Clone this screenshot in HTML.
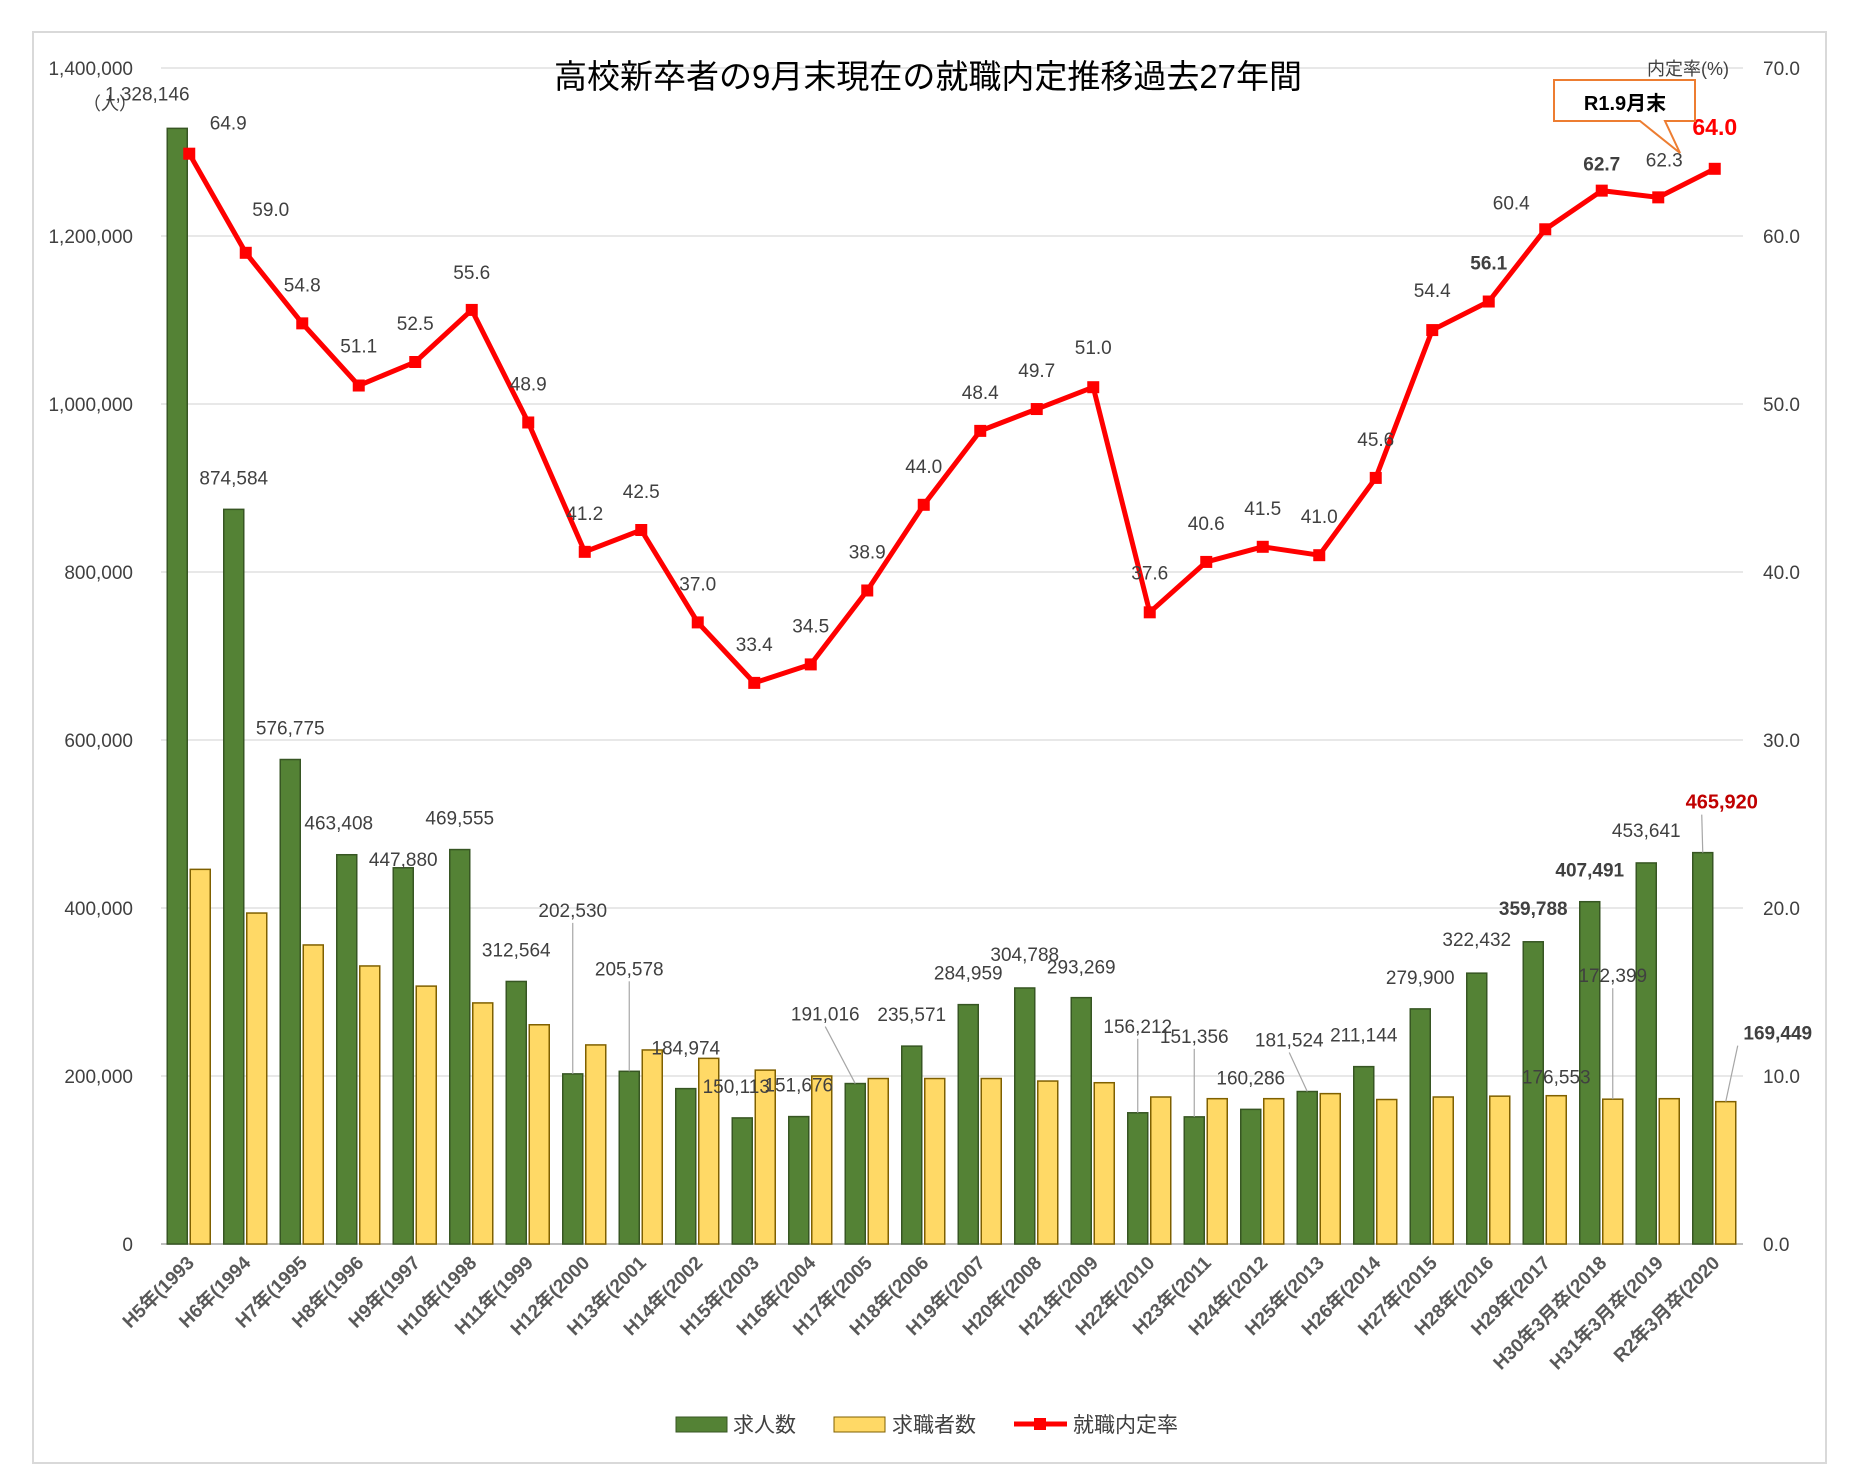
<!DOCTYPE html>
<html><head><meta charset="utf-8">
<style>
html,body{margin:0;padding:0;background:#fff;}
svg{display:block;font-family:"Liberation Sans","Noto Sans CJK JP",sans-serif;}
</style></head>
<body>
<svg id="chart" width="1849" height="1469" viewBox="0 0 1849 1469" xmlns="http://www.w3.org/2000/svg">
<rect x="33" y="32" width="1793" height="1431" fill="#fff" stroke="#d9d9d9" stroke-width="2"/>
<g id="grid"></g>
<g id="bars"></g>
<g id="line"></g>
<g id="labels"></g>
<g id="axes"></g>
<text x="928" y="88" font-size="33" text-anchor="middle" fill="#000">高校新卒者の9月末現在の就職内定推移過去27年間</text>
<text x="83" y="110" font-size="18" fill="#404040">（人）</text>
<text x="1647" y="75" font-size="18" fill="#404040">内定率(%)</text>
<g>
<path d="M1554,80 H1695 V121 H1665 L1680,153 L1640,121 H1554 Z" fill="#fff" stroke="#ed7d31" stroke-width="2"/>
<text x="1625" y="110" font-size="20" font-weight="bold" text-anchor="middle" fill="#000">R1.9月末</text>
</g>
<g>
<rect x="676" y="1417" width="51" height="15" fill="#548235" stroke="#375623"/>
<text x="733" y="1432" font-size="21" fill="#404040">求人数</text>
<rect x="834" y="1417" width="51" height="15" fill="#ffd966" stroke="#7f6000"/>
<text x="892" y="1432" font-size="21" fill="#404040">求職者数</text>
<line x1="1014" y1="1424" x2="1067" y2="1424" stroke="#ff0000" stroke-width="5"/>
<rect x="1034" y="1418" width="12" height="12" fill="#ff0000"/>
<text x="1073" y="1432" font-size="21" fill="#404040">就職内定率</text>
</g>
</svg>
<script>
const categories=["H5年(1993","H6年(1994","H7年(1995","H8年(1996","H9年(1997","H10年(1998","H11年(1999","H12年(2000","H13年(2001","H14年(2002","H15年(2003","H16年(2004","H17年(2005","H18年(2006","H19年(2007","H20年(2008","H21年(2009","H22年(2010","H23年(2011","H24年(2012","H25年(2013","H26年(2014","H27年(2015","H28年(2016","H29年(2017","H30年3月卒(2018","H31年3月卒(2019","R2年3月卒(2020"];
const jobOffers=[1328146,874584,576775,463408,447880,469555,312564,202530,205578,184974,150113,151676,191016,235571,284959,304788,293269,156212,151356,160286,181524,211144,279900,322432,359788,407491,453641,465920];
const jobSeekers=[446000,394000,356000,331000,307000,287000,261000,237000,231000,221000,207000,200000,197000,197000,197000,194000,192000,175000,173000,173000,179000,172000,175000,176000,176553,172399,173000,169449];
const offerRate=[64.9,59.0,54.8,51.1,52.5,55.6,48.9,41.2,42.5,37.0,33.4,34.5,38.9,44.0,48.4,49.7,51.0,37.6,40.6,41.5,41.0,45.6,54.4,56.1,60.4,62.7,62.3,64.0];
const leftTicks=[0,200000,400000,600000,800000,1000000,1200000,1400000];
const rightTicks=[0,10,20,30,40,50,60,70];
// label layout offsets (pixels, not data)
const gOff=[[-30,-28],[0,-25],[0,-25],[-8,-25],[0,-2],[0,-25],[0,-25],[0,-157],[0,-96],[0,-34],[-6,-25],[0,-25],[-30,-63],[0,-25],[0,-25],[0,-27],[0,-24],[0,-80],[0,-74],[0,-25],[-18,-45],[0,-25],[0,-25],[0,-27],[0,-27],[0,-25],[0,-26],[19,-44]];
const rOff=[[39,-24],[25,-37],[0,-32],[0,-33],[0,-32],[0,-31],[0,-32],[0,-32],[0,-32],[0,-32],[0,-32],[0,-32],[0,-32],[0,-32],[0,-32],[0,-32],[0,-33],[0,-33],[0,-32],[0,-32],[0,-32],[0,-32],[0,-33],[0,-32],[-34,-20],[0,-20],[6,-31],[0,-34]];
const NS="http://www.w3.org/2000/svg";
const X0=161,X1=1743,Y0=1244,Y1=68;
const n=categories.length,gw=(X1-X0)/n;
function xc(i){return X0+gw*(i+0.5);}
function yL(v){return Y0-v/1400000*(Y0-Y1);}
function yR(v){return Y0-v/70*(Y0-Y1);}
function mk(tag,attrs,parent,txt){const e=document.createElementNS(NS,tag);for(const k in attrs)e.setAttribute(k,attrs[k]);if(txt!==undefined)e.textContent=txt;parent.appendChild(e);return e;}
const grid=document.getElementById('grid'),bars=document.getElementById('bars'),line=document.getElementById('line'),labels=document.getElementById('labels'),axes=document.getElementById('axes');
leftTicks.forEach(t=>{
  const g=mk('line',{x1:X0,x2:X1,y1:yL(t),y2:yL(t),stroke:t===0?'#bfbfbf':'#d9d9d9','stroke-width':t===0?2:1.2},grid);
  
  
  const tl=mk('text',{x:133,y:yL(t)+7,'font-size':19,'text-anchor':'end',fill:'#404040'},axes,t.toLocaleString('en-US'));
  
  
});
rightTicks.forEach(t=>{
  const tl=mk('text',{x:1763,y:yR(t)+7,'font-size':19,fill:'#404040'},axes,t.toFixed(1));
  
  
});
categories.forEach((c,i)=>{
  const cx=xc(i);
  const gb=mk('rect',{x:cx-22,y:yL(jobOffers[i]),width:20,height:Y0-yL(jobOffers[i]),fill:'#548235',stroke:'#375623','stroke-width':1.5},bars);
  
  
  const yb=mk('rect',{x:cx+1,y:yL(jobSeekers[i]),width:20,height:Y0-yL(jobSeekers[i]),fill:'#ffd966',stroke:'#7f6000','stroke-width':1.5},bars);
  
  
  const xl=mk('text',{transform:`translate(${cx+6},1264) rotate(-45)`,'font-size':19,'font-weight':'bold','text-anchor':'end',fill:'#595959'},axes,c);
  
  
});
const pts=offerRate.map((v,i)=>xc(i)+','+yR(v)).join(' ');
const pl=mk('polyline',{points:pts,fill:'none',stroke:'#ff0000','stroke-width':5,'stroke-linejoin':'round'},line);


offerRate.forEach((v,i)=>{
  const m=mk('rect',{x:xc(i)-6,y:yR(v)-6,width:12,height:12,fill:'#ff0000'},line);
  
  
});
// green labels
jobOffers.forEach((v,i)=>{
  const bx=xc(i)-12, top=yL(v);
  const lx=bx+gOff[i][0], ly=top+gOff[i][1];
  const bold=(i===24||i===25||i===27);
  const col=i===27?'#c00000':'#404040';
  if(gOff[i][1]<-40){
    const ll=mk('line',{x1:lx+(i===27?-20:0),y1:ly+6,x2:bx,y2:top,stroke:'#a6a6a6','stroke-width':1.2},labels);
    
    
  }
  const t=mk('text',{x:lx,y:ly,'font-size':i===27?20:19,'font-weight':bold?'bold':'normal','text-anchor':'middle',fill:col},labels,v.toLocaleString('en-US'));
  
  
});
// seeker labels (only some shown)
const sIdx=[24,25,27],sOff=[[0,-12],[0,-117],[52,-62]];
sIdx.forEach((i,k)=>{
  const bx=xc(i)+11, top=yL(jobSeekers[i]);
  const lx=bx+sOff[k][0], ly=top+sOff[k][1];
  if(sOff[k][1]<-40){
    const ll=mk('line',{x1:lx-(k===2?40:0),y1:ly+6,x2:bx,y2:top,stroke:'#a6a6a6','stroke-width':1.2},labels);
    
    
  }
  const t=mk('text',{x:lx,y:ly,'font-size':19,'font-weight':k===2?'bold':'normal','text-anchor':'middle',fill:'#404040'},labels,jobSeekers[i].toLocaleString('en-US'));
  
  
});
// rate labels
offerRate.forEach((v,i)=>{
  const px=xc(i), py=yR(v);
  const bold=(i===23||i===25||i===27);
  const t=mk('text',{x:px+rOff[i][0],y:py+rOff[i][1],'font-size':i===27?23:19,'font-weight':bold?'bold':'normal','text-anchor':'middle',fill:i===27?'#ff0000':'#404040'},labels,v.toFixed(1));
  
  
});
</script>
</body></html>
